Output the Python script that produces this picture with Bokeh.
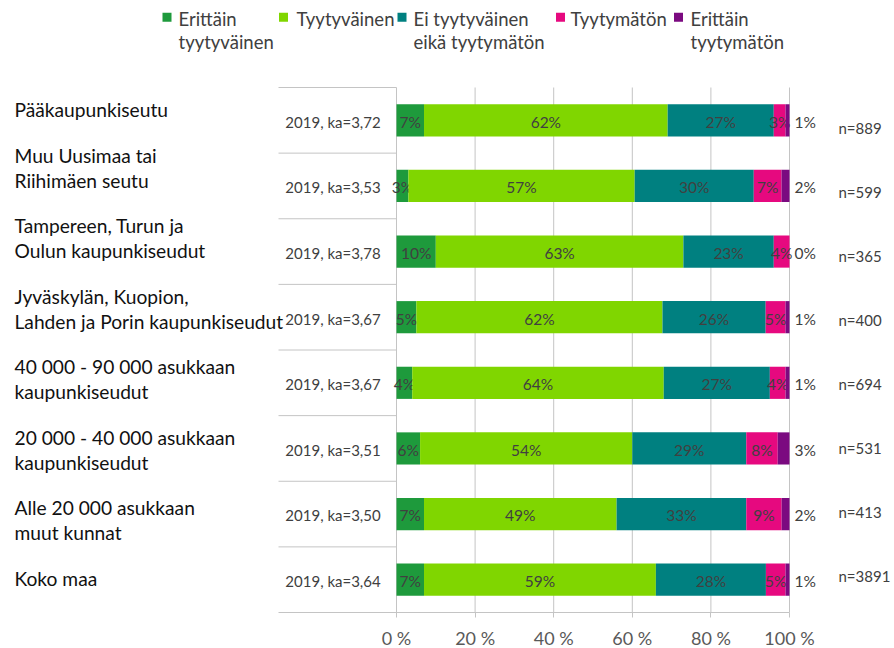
from bokeh.plotting import figure
from bokeh.models import ColumnDataSource, Range1d, FixedTicker, PrintfTickFormatter
from bokeh.core.properties import value
from bokeh.embed import file_html
from bokeh.resources import INLINE

# ---------------- data ----------------
categories = [
    "Pääkaupunkiseutu",
    "Muu Uusimaa tai\nRiihimäen seutu",
    "Tampereen, Turun ja\nOulun kaupunkiseudut",
    "Jyväskylän, Kuopion,\nLahden ja Porin kaupunkiseudut",
    "40 000 - 90 000 asukkaan\nkaupunkiseudut",
    "20 000 - 40 000 asukkaan\nkaupunkiseudut",
    "Alle 20 000 asukkaan\nmuut kunnat",
    "Koko maa",
]
year_labels = ["2019, ka=3,72", "2019, ka=3,53", "2019, ka=3,78", "2019, ka=3,67",
               "2019, ka=3,67", "2019, ka=3,51", "2019, ka=3,50", "2019, ka=3,64"]
n_labels = ["n=889", "n=599", "n=365", "n=400", "n=694", "n=531", "n=413", "n=3891"]
series_names = ["Erittäin\ntyytyväinen", "Tyytyväinen", "Ei tyytyväinen\neikä tyytymätön",
                "Tyytymätön", "Erittäin\ntyytymätön"]
erittain_tyytyvainen = [7, 3, 10, 5, 4, 6, 7, 7]
tyytyvainen = [62, 57, 63, 62, 64, 54, 49, 59]
ei_tyytyvainen_eika_tyytymaton = [27, 30, 23, 26, 27, 29, 33, 28]
tyytymaton = [3, 7, 4, 5, 4, 8, 9, 5]
erittain_tyytymaton = [1, 2, 0, 1, 1, 3, 2, 1]
x_ticks = [0, 20, 40, 60, 80, 100]

# ---------------- styles ----------------
colors = ["#1e9a3c", "#80d600", "#008080", "#e6097f", "#7b0a80"]
FONT = value("Lato")
GRID = "#c4c4c4"
DARK = "#404040"

# pixel -> data helpers (layout only)
PX0, PX100 = 396.0, 789.0
TOP, PITCH = 87.0, 65.625
W, H, FRAME_BOTTOM = 894, 648, 612


def dx(px):
    return (px - PX0) * 100.0 / (PX100 - PX0)


def dy(py):
    return (py - TOP) / PITCH - 0.5


p = figure(frame_width=W, frame_height=FRAME_BOTTOM,
           x_range=Range1d(dx(0), dx(W)), y_range=Range1d(dy(FRAME_BOTTOM), dy(0)),
           output_backend="svg", toolbar_location=None,
           x_axis_location="below", y_axis_location=None,
           min_border_left=0, min_border_right=0, min_border_top=0,
           min_border_bottom=H - FRAME_BOTTOM,
           outline_line_color=None, background_fill_color="white", border_fill_color="white")
p.xgrid.grid_line_color = None
p.ygrid.grid_line_color = None

rows = list(range(len(categories)))

# vertical gridlines
p.segment(x0=x_ticks, x1=x_ticks, y0=[dy(87)] * len(x_ticks), y1=[dy(612)] * len(x_ticks),
          line_color=GRID, line_width=1)
# row separators on the left (category table lines)
seps = [k - 0.5 for k in range(len(categories))]
p.segment(x0=[dx(278)] * len(seps), x1=[0] * len(seps), y0=seps, y1=seps,
          line_color=GRID, line_width=1)

# stacked bars (100 % stacked -> normalised per row)
series = [erittain_tyytyvainen, tyytyvainen, ei_tyytyvainen_eika_tyytymaton,
          tyytymaton, erittain_tyytymaton]
totals = [sum(s[i] for s in series) for i in rows]
left = [0.0] * len(rows)
for k, s in enumerate(series):
    share = [s[i] * 100.0 / totals[i] for i in rows]
    right = [left[i] + share[i] for i in rows]
    src = ColumnDataSource(dict(
        y=rows, left=left, right=right,
        mid=[(a + b) / 2 for a, b in zip(left, right)],
        lab=[f"{v}%" for v in s],
        yl=[r + 0.02 for r in rows],
        outx=[dx(794)] * len(rows),
    ))
    p.hbar(y="y", left="left", right="right", height=0.49, source=src,
           fill_color=colors[k], line_color=None)
    if k < len(series) - 1:
        p.text(x="mid", y="yl", text="lab", source=src, text_font=FONT,
               text_font_size="15.5px", text_color=DARK, text_align="center",
               text_baseline="middle")
    else:
        p.text(x="outx", y="yl", text="lab", source=src, text_font=FONT,
               text_font_size="15.5px", text_color=DARK, text_align="left",
               text_baseline="middle")
    left = right

# "2019, ka=..." labels
p.text(x=[dx(332.5)] * len(rows), y=[r + 0.02 for r in rows], text=year_labels,
       text_font=FONT, text_font_size="15px", text_color=DARK,
       text_align="center", text_baseline="middle")

# n= labels
p.text(x=[dx(838)] * len(rows), y=[dy(127 + 64.1 * r) for r in rows], text=n_labels,
       text_font=FONT, text_font_size="15px", text_color=DARK,
       text_align="left", text_baseline="middle")

# category labels (text box on the left)
cat_x, cat_y, cat_t = [], [], []
ypos = 109.0
for c in categories:
    lines = c.split("\n")
    for j, ln in enumerate(lines):
        cat_x.append(dx(14))
        cat_y.append(dy(ypos + 25 * j))
        cat_t.append(ln)
    ypos += 25 * len(lines) + 20.5
p.text(x=cat_x, y=cat_y, text=cat_t, text_font=FONT, text_font_size="19.2px",
       text_color="#111111", text_align="left", text_baseline="middle")

# legend
sq_x = [166.5, 283, 401.5, 560, 678]
tx_x = [178, 296, 413, 570, 690]
p.scatter(x=[dx(v) for v in sq_x], y=[dy(16.7)] * len(sq_x), marker="square", size=9,
          fill_color=colors, line_color=None)
lg_x, lg_y, lg_t = [], [], []
for k, name in enumerate(series_names):
    for j, ln in enumerate(name.split("\n")):
        lg_x.append(dx(tx_x[k]))
        lg_y.append(dy(18.3 + 23.4 * j))
        lg_t.append(ln)
p.text(x=lg_x, y=lg_y, text=lg_t, text_font=FONT, text_font_size="18.5px",
       text_color=DARK, text_align="left", text_baseline="middle")

# x axis
ax = p.xaxis[0]
ax.ticker = FixedTicker(ticks=x_ticks)
ax.formatter = PrintfTickFormatter(format="%d %%")
ax.bounds = (dx(278), 100)
ax.axis_line_color = GRID
ax.major_tick_line_color = GRID
ax.major_tick_out = 5
ax.major_tick_in = 0
ax.minor_tick_line_color = None
ax.major_label_text_font = "Lato"
ax.major_label_text_font_size = "18px"
ax.major_label_text_color = "#595959"
ax.major_label_standoff = 9

open("out.html", "w").write(file_html(p, INLINE))
